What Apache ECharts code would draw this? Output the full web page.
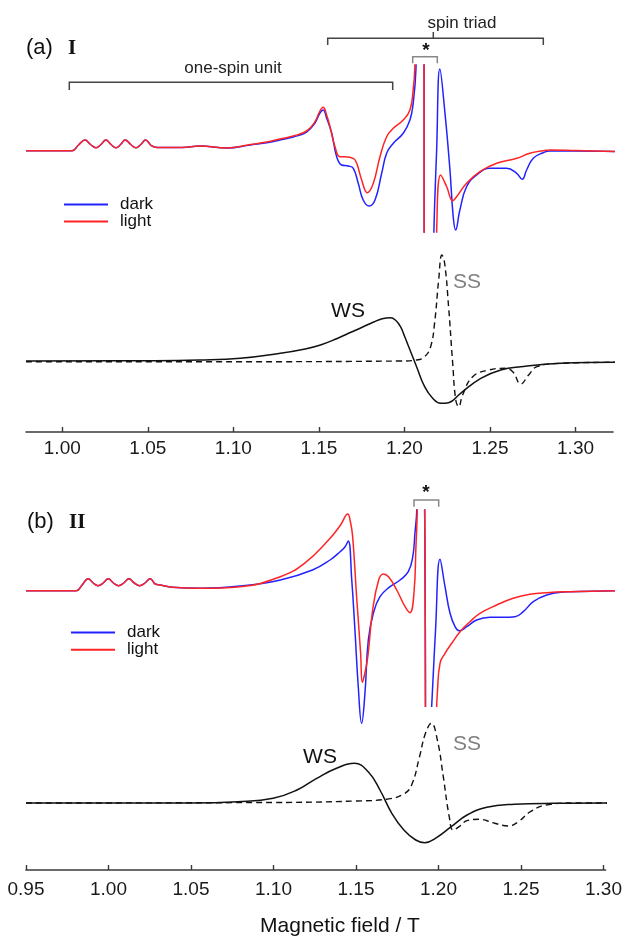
<!DOCTYPE html>
<html><head><meta charset="utf-8">
<script src="https://cdn.jsdelivr.net/npm/echarts@6/dist/echarts.min.js"></script>
<style>html,body{margin:0;padding:0;background:#fff}#c{width:625px;height:936px}</style>
</head><body><div id="c"></div>
<script>
// ---- tick labels ----
const ticksA = [1.00,1.05,1.10,1.15,1.20,1.25,1.30];
const ticksB = [0.95,1.00,1.05,1.10,1.15,1.20,1.25,1.30];
const legendNames = ['dark','light'];

// ---- panel (a) I : experimental (field / T, amplitude a.u.) ----
const aDark = [[0.9788,0.3],[1.0057,0.3],[1.0095,6],[1.0133,11],[1.0165,6.5],[1.0197,3.3],[1.0226,6.5],[1.0255,11],[1.0285,6.5],[1.0314,3.3],[1.0341,6.5],[1.0368,11],[1.0400,6.5],[1.0431,3.3],[1.0459,6.5],[1.0487,11],[1.0520,5.5],[1.0553,3.5],[1.0700,3.5],[1.0805,5],[1.0962,3],[1.1100,6],[1.1195,8.3],[1.1272,11],[1.1350,14],[1.1428,19],[1.1477,28],[1.1506,38],[1.1525,41],[1.1545,33],[1.1575,17.7],[1.1604,-5.7],[1.1633,-14],[1.1672,-15],[1.1701,-17.3],[1.1730,-32.3],[1.1759,-49],[1.1793,-55],[1.1828,-49],[1.1867,-22.3],[1.1896,-2.3],[1.1935,7.7],[1.1993,17.7],[1.2032,31],[1.2051,47.7],[1.2067,81],[1.2080,200],[1.2105,200],[1.2125,-200],[1.2160,-200],[1.2172,-81],[1.2188,0],[1.2207,82],[1.2237,37.7],[1.2266,-19],[1.2285,-65.7],[1.2299,-79],[1.2324,-59],[1.2363,-35.7],[1.2422,-24],[1.2500,-17.3],[1.2597,-17.3],[1.2656,-22.3],[1.2688,-28.3],[1.2714,-19],[1.2753,-7.3],[1.2811,-1.7],[1.2850,0],[1.3000,0],[1.3230,-0.5]];
const aLight = [[0.9788,0.3],[1.0057,0.3],[1.0095,6],[1.0133,11],[1.0165,6.5],[1.0197,3.3],[1.0226,6.5],[1.0255,11],[1.0285,6.5],[1.0314,3.3],[1.0341,6.5],[1.0368,11],[1.0400,6.5],[1.0431,3.3],[1.0459,6.5],[1.0487,11],[1.0520,5.5],[1.0553,3.5],[1.0700,3.5],[1.0805,5],[1.0962,3],[1.1100,6.5],[1.1195,9],[1.1272,12],[1.1350,15],[1.1428,20],[1.1477,29.3],[1.1506,40],[1.1525,43.7],[1.1545,36],[1.1565,24.3],[1.1594,4.3],[1.1623,-5.7],[1.1652,-5.7],[1.1701,-7.3],[1.1721,-12.3],[1.1750,-29],[1.1783,-41.7],[1.1818,-32.3],[1.1857,-5.7],[1.1896,14.3],[1.1935,22.7],[1.1993,31],[1.2032,41],[1.2051,61],[1.2061,85],[1.2072,200],[1.2105,200],[1.2125,-200],[1.2175,-200],[1.2188,-81],[1.2212,-24],[1.2247,-35.7],[1.2282,-49.7],[1.2305,-45.7],[1.2363,-32.3],[1.2441,-20.7],[1.2539,-12.3],[1.2656,-7.3],[1.2733,-2.3],[1.2811,0.3],[1.2850,1],[1.3000,0.5],[1.3230,-0.5]];
// ---- panel (a) simulations ----
const aWS = [[0.9788,0],[1.0500,0.3],[1.0800,1],[1.1041,2.7],[1.1275,7.7],[1.1420,12],[1.1509,16],[1.1600,22],[1.1673,27.7],[1.1750,33.5],[1.1820,39],[1.1870,42.3],[1.1919,43.3],[1.1950,40.5],[1.1977,34.3],[1.2000,25],[1.2025,14.3],[1.2071,-5.7],[1.2118,-25.7],[1.2165,-37.3],[1.2212,-42.3],[1.2258,-41.7],[1.2328,-32.3],[1.2446,-17.3],[1.2563,-9],[1.2680,-5.7],[1.2915,-2.3],[1.3230,-1.3]];
const aSS = [[0.9788,-0.7],[1.1000,-0.7],[1.1977,0],[1.2071,1],[1.2118,4.3],[1.2153,14.3],[1.2176,37.7],[1.2200,81],[1.2219,106],[1.2235,97.7],[1.2258,54.3],[1.2282,-2.3],[1.2300,-39],[1.2317,-45.7],[1.2340,-34],[1.2399,-15.7],[1.2493,-9],[1.2586,-7.3],[1.2633,-10.7],[1.2680,-23],[1.2726,-14],[1.2774,-5.7],[1.2915,-2.3],[1.3230,-1.3]];

// ---- panel (b) II : experimental ----
const bDark = [[0.9500,0.3],[0.9799,0.3],[0.9836,6],[0.9872,12.3],[0.9902,8],[0.9931,5.3],[0.9962,8],[0.9992,12.3],[1.0023,8],[1.0054,5.3],[1.0085,8],[1.0116,12.3],[1.0148,8],[1.0180,5.3],[1.0212,8],[1.0243,12.3],[1.0274,7],[1.0304,6],[1.0375,3.7],[1.0543,2.7],[1.0783,5],[1.1022,11],[1.1214,21],[1.1319,31],[1.1379,39.3],[1.1409,44.3],[1.1428,50],[1.1449,11],[1.1468,-39],[1.1488,-95.7],[1.1508,-132.3],[1.1528,-102.3],[1.1548,-49],[1.1578,-22.3],[1.1618,-5.7],[1.1678,4.3],[1.1738,11],[1.1787,19.3],[1.1814,34.3],[1.1827,57.7],[1.1838,81],[1.1850,200],[1.1870,200],[1.1890,-116],[1.1905,null],[1.1927,-116],[1.1950,-40],[1.1977,31.7],[1.2007,4.3],[1.2037,-22.3],[1.2067,-35.7],[1.2092,-39.7],[1.2137,-35.7],[1.2196,-29],[1.2276,-26.3],[1.2356,-26.3],[1.2426,-25.7],[1.2475,-20.7],[1.2535,-10.7],[1.2615,-4],[1.2715,-1],[1.2755,-0.7],[1.3024,0.3]];
const bLight = [[0.9500,0.3],[0.9799,0.3],[0.9836,6],[0.9872,12.3],[0.9902,8],[0.9931,5.3],[0.9962,8],[0.9992,12.3],[1.0023,8],[1.0054,5.3],[1.0085,8],[1.0116,12.3],[1.0148,8],[1.0180,5.3],[1.0212,8],[1.0243,12.3],[1.0274,7],[1.0304,6],[1.0375,3.7],[1.0543,2.7],[1.0783,4.3],[1.1022,14.3],[1.1166,27.7],[1.1310,51],[1.1382,66],[1.1425,77],[1.1440,70],[1.1454,55],[1.1478,-5.7],[1.1502,-62.3],[1.1512,-91.3],[1.1525,-84],[1.1545,-65.7],[1.1574,-19],[1.1610,11],[1.1638,17],[1.1670,14],[1.1718,1],[1.1768,-15.7],[1.1797,-21.7],[1.1821,-2.3],[1.1833,44.3],[1.1841,81],[1.1850,200],[1.1870,200],[1.1890,-116],[1.1910,null],[1.1957,-116],[1.1961,-102.3],[1.1977,-72.3],[1.2007,-62.3],[1.2047,-52.3],[1.2097,-40.7],[1.2156,-30.7],[1.2216,-22.3],[1.2316,-14],[1.2415,-7.3],[1.2515,-3.3],[1.2615,-1.7],[1.2755,-0.7],[1.3024,0.3]];
// ---- panel (b) simulations ----
const bWS = [[0.95,0],[1.05,0],[1.0783,1.3],[1.0998,4.7],[1.1142,13],[1.1262,24.7],[1.1382,34.7],[1.1490,39.7],[1.1574,31.3],[1.1645,13],[1.1717,-10.3],[1.1790,-27],[1.1862,-37],[1.1917,-39.7],[1.1981,-35.3],[1.2077,-23.7],[1.2173,-12],[1.2293,-4.3],[1.2460,-1.3],[1.2701,-0.3],[1.3036,0]];
const bSS = [[0.95,0],[1.10,0.5],[1.1502,2],[1.1693,4],[1.1790,9],[1.1837,18],[1.1885,46.3],[1.1921,69.7],[1.1957,79.7],[1.1993,63],[1.2029,26.3],[1.2065,-13.7],[1.2089,-27],[1.2125,-23.7],[1.2173,-17.7],[1.2245,-16.3],[1.2341,-20.3],[1.2424,-23],[1.2484,-18.7],[1.2557,-8.7],[1.2652,-2],[1.2820,0],[1.3036,0]];

const FONT = "'Liberation Sans', Arial, sans-serif";
const SERIF = "'Liberation Serif', 'Times New Roman', serif";
const BLUE = '#2222ff', RED = '#ff2424';

const chart = echarts.init(document.getElementById('c'), null, {renderer:'canvas'});

function xAx(grid, min, max, show, ticks, margin) {
  return {
    type:'value', gridIndex:grid, min:min, max:max, show:show,
    splitLine:{show:false},
    axisLine:{show:true, onZero:false, lineStyle:{color:'#3a3a3a', width:1.6}},
    axisTick:{show:true, inside:true, length:5, customValues:ticks, lineStyle:{color:'#3a3a3a', width:1.4}},
    axisLabel:{show:true, customValues:ticks, margin:margin, fontSize:19, fontFamily:FONT, color:'#1a1a1a',
      formatter:function(v){return Number(v).toFixed(2);}}
  };
}
function yAx(grid, min, max) {
  return {type:'value', gridIndex:grid, min:min, max:max, show:false, splitLine:{show:false}};
}
function ln(name, data, idx, color, width, dashed, z) {
  return {
    type:'line', name:name, data:data, xAxisIndex:idx, yAxisIndex:idx,
    symbol:'none', showSymbol:false, smooth:0.45,
    connectNulls:false, clip:true, animation:false, z:z||2,
    itemStyle:{color:color},
    lineStyle:{color:color, width:width, type: dashed ? [6,4] : 'solid'},
    emphasis:{disabled:true}
  };
}
function txt(x, y, s, font, fill, align) {
  return {type:'text', x:x, y:y, silent:true,
    style:{text:s, font:font, fill:fill||'#111', align:align||'center', verticalAlign:'middle'}};
}
function bracket(pts, color) {
  return {type:'polyline', silent:true, shape:{points:pts}, style:{stroke:color, lineWidth:1.5, fill:null}};
}

const option = {
  backgroundColor:'#fff',
  animation:false,
  grid:[
    {left:26, width:587, top:65, height:167},
    {left:26, width:587, top:240, height:192},
    {left:26, width:587, top:510, height:220},
    {left:26, width:587, top:715, height:155}
  ],
  xAxis:[
    xAx(0, 0.9788, 1.3219, false, ticksA, 7),
    xAx(1, 0.9788, 1.3219, true, ticksA, 7),
    xAx(2, 0.95, 1.3012, false, ticksB, 10),
    xAx(3, 0.95, 1.3012, true, ticksB, 10)
  ],
  yAxis:[ yAx(0,-81,86), yAx(1,-71,121), yAx(2,-139,81), yAx(3,-67,88) ],
  legend:[
    {orient:'vertical', left:64, top:196, padding:0, itemGap:0, itemWidth:44, itemHeight:2, icon:'rect',
     selectedMode:false, data:legendNames,
     textStyle:{fontSize:17, fontFamily:FONT, color:'#111', lineHeight:17, padding:[0,0,0,7]}},
    {orient:'vertical', left:71, top:624, padding:0, itemGap:0.3, itemWidth:44, itemHeight:2, icon:'rect',
     selectedMode:false, data:legendNames,
     textStyle:{fontSize:17, fontFamily:FONT, color:'#111', lineHeight:17, padding:[0,0,0,7]}}
  ],
  series:[
    ln('dark', aDark, 0, BLUE, 1.5, false, 2),
    ln('light', aLight, 0, RED, 1.5, false, 3),
    ln('WS (I)', aWS, 1, '#111', 1.5, false, 2),
    ln('SS (I)', aSS, 1, '#111', 1.4, true, 2),
    ln('dark', bDark, 2, BLUE, 1.5, false, 2),
    ln('light', bLight, 2, RED, 1.5, false, 3),
    ln('WS (II)', bWS, 3, '#111', 1.5, false, 2),
    ln('SS (II)', bSS, 3, '#111', 1.4, true, 2)
  ],
  graphic:[
    txt(26, 48, '(a)', '22px '+FONT, '#111', 'left'),
    txt(68, 49, 'I', 'bold 21px '+SERIF, '#111', 'left'),
    bracket([[69.3,90],[69.3,82.3],[392.7,82.3],[392.7,90]], '#444'),
    txt(233, 68, 'one-spin unit', '17px '+FONT, '#222'),
    bracket([[327.7,45],[327.7,38.3],[543.3,38.3],[543.3,45]], '#444'),
    bracket([[433.3,38.3],[433.3,32]], '#444'),
    txt(462, 23, 'spin triad', '17px '+FONT, '#222'),
    bracket([[412.7,63.3],[412.7,56.7],[437.3,56.7],[437.3,63.3]], '#888'),
    txt(426, 51, '*', 'bold 19px '+FONT, '#111'),
    txt(348, 311, 'WS', '21px '+FONT, '#111'),
    txt(467, 282, 'SS', '21px '+FONT, '#808080'),
    txt(27, 522, '(b)', '22px '+FONT, '#111', 'left'),
    txt(69, 523, 'II', 'bold 21px '+SERIF, '#111', 'left'),
    bracket([[414,506.7],[414,500],[438.7,500],[438.7,506.7]], '#888'),
    txt(426, 493, '*', 'bold 19px '+FONT, '#111'),
    txt(320, 757, 'WS', '21px '+FONT, '#111'),
    txt(467, 744, 'SS', '21px '+FONT, '#808080'),
    txt(340, 926, 'Magnetic field / T', '21px '+FONT, '#111')
  ]
};
chart.setOption(option);
</script>
</body></html>
